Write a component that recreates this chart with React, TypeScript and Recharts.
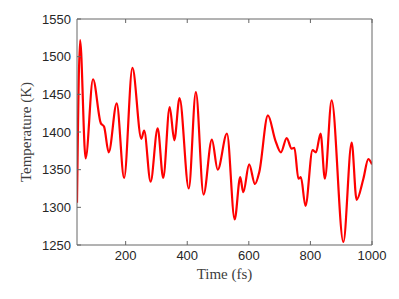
import React from "react";
import { LineChart, Line, XAxis, YAxis } from "recharts";

const times = [42, 52, 70, 94, 119, 130, 145, 171, 195, 222, 251, 260, 281, 304, 322, 343, 358, 375, 405, 428, 453, 480, 499, 529, 554, 572, 582, 601, 620, 634, 662, 686, 704, 723, 739, 748, 761, 769, 784, 807, 818, 833, 847, 869, 907, 934, 950, 972, 988, 1000];
const temps = [1306, 1522, 1365, 1470, 1412, 1407, 1373, 1438, 1339, 1485, 1391, 1402, 1334, 1405, 1339, 1433, 1389, 1445, 1325, 1453, 1317, 1390, 1350, 1398, 1284, 1340, 1320, 1357, 1331, 1347, 1422, 1389, 1373, 1392, 1378, 1379, 1338, 1340, 1302, 1376, 1373, 1398, 1338, 1442, 1254, 1386, 1310, 1338, 1364, 1357];
const xTicks = [200, 400, 600, 800, 1000];
const yTicks = [1250, 1300, 1350, 1400, 1450, 1500, 1550];

const data = times.map((t, i) => ({ t, T: temps[i] }));

const axisColor = "#666666";
const tickFont = { fontFamily: "'Liberation Sans', Arial, sans-serif", fontSize: 13, fill: "#262626" };
const labelFont = { fontFamily: "'Liberation Serif', 'Times New Roman', serif", fontSize: 15, fill: "#404040" };
const emptyTick = () => <g />;

export default function App() {
  return (
    <div style={{ position: "absolute", left: 0, top: 0, width: 399, height: 299, background: "#fff" }}>
      <LineChart width={399} height={299} data={data} margin={{ top: 18, right: 26, bottom: 0, left: 0 }}>
        <XAxis
          xAxisId="b"
          dataKey="t"
          type="number"
          domain={[42, 1000]}
          ticks={xTicks}
          allowDataOverflow
          height={54}
          stroke={axisColor}
          tickSize={-4}
          tickMargin={10}
          tick={tickFont}
          label={{ value: "Time (fs)", position: "insideBottom", offset: 20, style: labelFont }}
        />
        <XAxis
          xAxisId="t"
          orientation="top"
          dataKey="t"
          type="number"
          domain={[42, 1000]}
          ticks={xTicks}
          allowDataOverflow
          height={1}
          stroke={axisColor}
          tickSize={-4}
          tick={emptyTick}
        />
        <YAxis
          yAxisId="l"
          type="number"
          domain={[1250, 1550]}
          ticks={yTicks}
          width={77}
          stroke={axisColor}
          tickSize={-4}
          tickMargin={10}
          tick={tickFont}
          label={{ value: "Temperature (K)", angle: -90, position: "insideLeft", offset: 26, style: { ...labelFont, textAnchor: "middle" } }}
        />
        <YAxis
          yAxisId="r"
          orientation="right"
          type="number"
          domain={[1250, 1550]}
          ticks={yTicks}
          width={1}
          stroke={axisColor}
          tickSize={-4}
          tick={emptyTick}
        />
        <Line
          xAxisId="b"
          yAxisId="l"
          dataKey="T"
          type="monotone"
          stroke="#ff0000"
          strokeWidth={2.2}
          dot={false}
          isAnimationActive={false}
        />
      </LineChart>
    </div>
  );
}
